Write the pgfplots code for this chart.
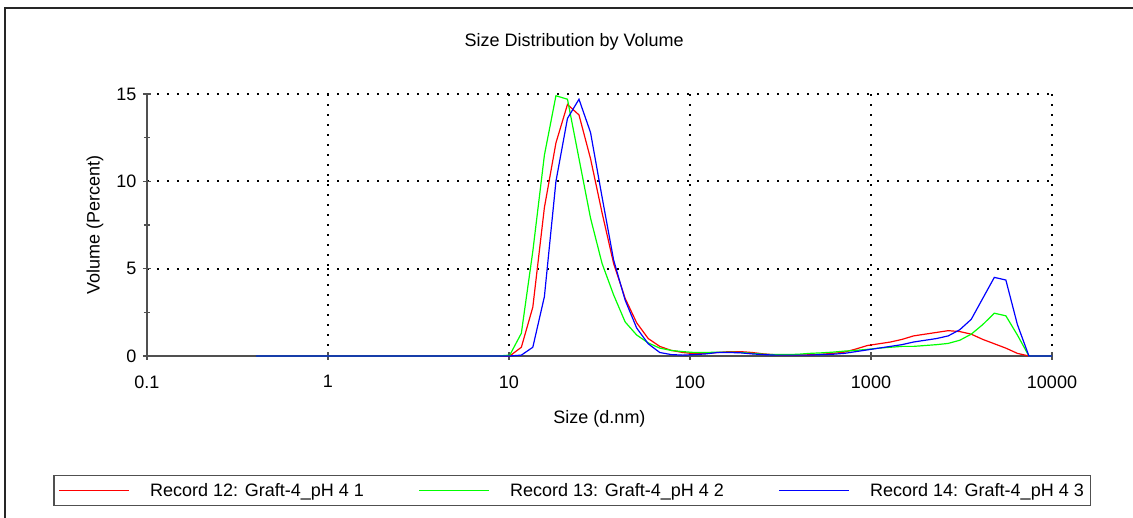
\documentclass[border=0pt]{standalone}
\usepackage{fontspec}
\setmainfont{Liberation Sans}
\usepackage{pgfplots}
\usepackage{pgfplotstable}
\pgfplotsset{compat=1.18}

% Volume distribution per size class (d.nm), three records
\pgfplotstableread{
size   red   green  blue
0.4    0     0      0
0.4632 0     0      0
0.5365 0     0      0
0.6213 0     0      0
0.7195 0     0      0
0.8332 0     0      0
0.9649 0     0      0
1.117  0     0      0
1.294  0     0      0
1.499  0     0      0
1.736  0     0      0
2.010  0     0      0
2.328  0     0      0
2.696  0     0      0
3.122  0     0      0
3.615  0     0      0
4.187  0     0      0
4.849  0     0      0
5.615  0     0      0
6.503  0     0      0
7.531  0     0      0
8.721  0     0      0
10.10  0     0.05   0
11.70  0.5   1.3    0.05
13.54  2.8   6.0    0.5
15.69  8.5   11.5   3.4
18.17  12.2  14.9   10.0
21.04  14.4  14.7   13.6
24.36  13.8  11.3   14.7
28.21  11.3  7.9    12.8
32.67  8.2   5.3    9.1
37.84  5.3   3.5    5.5
43.82  3.3   1.95   3.2
50.75  1.9   1.2    1.6
58.77  1.0   0.75   0.7
68.06  0.55  0.45   0.2
78.82  0.32  0.32   0.08
91.28  0.2   0.25   0.05
105.7  0.13  0.2    0.08
122.4  0.15  0.2    0.12
141.8  0.2   0.22   0.2
164.2  0.25  0.22   0.2
190.1  0.25  0.2    0.18
220.2  0.2   0.15   0.12
255.0  0.12  0.1    0.08
295.3  0.07  0.08   0.05
342.0  0.05  0.08   0.05
396.1  0.05  0.1    0.05
458.7  0.07  0.15   0.05
531.2  0.1   0.18   0.08
615.1  0.15  0.22   0.1
712.4  0.22  0.28   0.15
825.0  0.4   0.32   0.25
955.4  0.6   0.38   0.35
1106   0.7   0.45   0.45
1281   0.8   0.5    0.55
1484   0.95  0.55   0.65
1718   1.15  0.55   0.8
1990   1.25  0.6    0.9
2305   1.35  0.65   1.0
2669   1.45  0.72   1.15
3091   1.4   0.9    1.5
3580   1.25  1.25   2.1
4145   0.95  1.8    3.3
4801   0.7   2.45   4.5
5560   0.45  2.3    4.35
6439   0.15  1.2    1.8
7456   0     0      0
8635   0     0      0
10000  0     0      0
}\psd

\definecolor{axisgray}{RGB}{80,80,80}

\begin{document}
\begin{tikzpicture}
\path[use as bounding box] (0pt,0pt) rectangle (1133pt,518pt);
% outer frame
\draw[line width=1.4pt, black!85] (5pt,0pt) -- (5pt,510pt) -- (1133pt,510pt);
\begin{axis}[
  at={(147pt,162pt)}, anchor=south west,
  scale only axis, width=905pt, height=262pt,
  xmode=log, log basis x=10,
  xmin=0.1, xmax=10000, ymin=0, ymax=15,
  xtick={0.1,1,10,100,1000,10000},
  xticklabels={0.1,1,10,100,1000,10000},
  ytick={0,5,10,15},
  minor ytick={2.5,7.5,12.5},
  axis x line*=bottom, axis y line*=left,
  axis line style={axisgray, line width=1.4pt, -},
  tick align=center,
  major tick length=8pt, minor tick length=6pt,
  every tick/.style={axisgray, line width=1.2pt},
  grid=major,
  major grid style={black, line width=2pt, dash pattern=on 2pt off 8pt},
  font=\fontsize{18}{21.6}\selectfont,
  /pgf/number format/assume math mode=true,
  xticklabel style={yshift=-12pt},
  yticklabel style={xshift=-3pt},
  title={Size Distribution by Volume},
  title style={at={(axis description cs:0.472,1.175)}, anchor=center},
  xlabel={Size (d.nm)},
  xlabel style={at={(axis description cs:0.5,-0.24)}, anchor=center},
  ylabel={Volume (Percent)},
  ylabel style={at={(axis description cs:-0.0575,0.5)}, anchor=center},
  clip=false,
  legend columns=3,
  legend image code/.code={\draw[#1, line width=1.2pt] (0pt,0pt) -- (70pt,0pt);},
  legend style={at={(axis description cs:0.470,-0.513)}, anchor=center,
    draw=axisgray, line width=1.3pt, inner xsep=5pt, inner ysep=5.5pt,
    font=\fontsize{18}{21.6}\selectfont,
    /tikz/every odd column/.append style={column sep=18pt},
    /tikz/every even column/.append style={column sep=53pt}},
]
\addplot[red, line width=1.2pt] table[x=size, y=red] {\psd};
\addlegendentry{Record 12: Graft-4\_pH 4 1}
\addplot[green, line width=1.2pt] table[x=size, y=green] {\psd};
\addlegendentry{Record 13: Graft-4\_pH 4 2}
\addplot[blue, line width=1.2pt] table[x=size, y=blue] {\psd};
\addlegendentry{Record 14: Graft-4\_pH 4 3}
\end{axis}
\end{tikzpicture}
\end{document}
